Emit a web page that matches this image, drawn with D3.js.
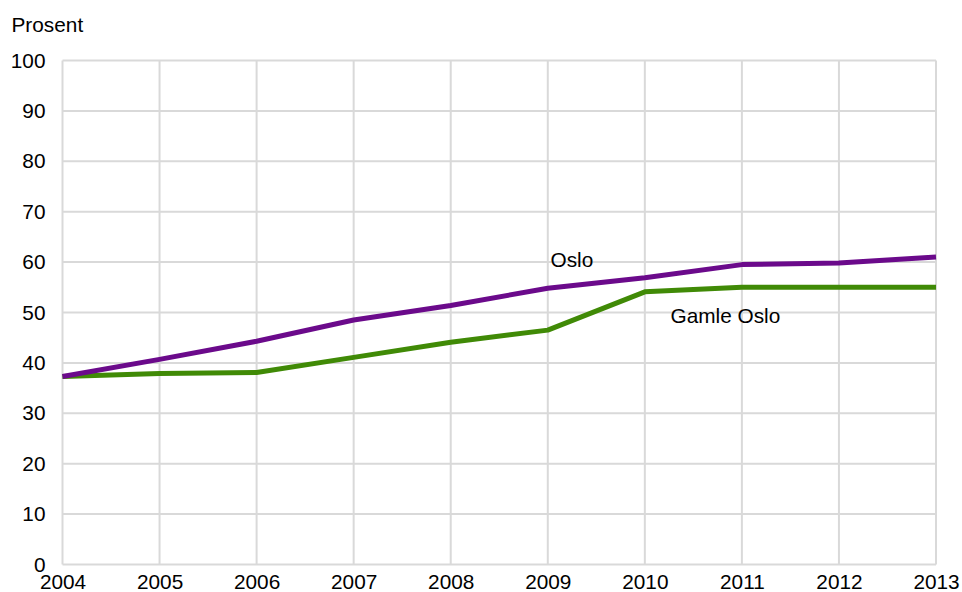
<!DOCTYPE html>
<html>
<head>
<meta charset="utf-8">
<script src="https://cdn.jsdelivr.net/npm/d3@7"></script>
<style>
  html, body { margin: 0; padding: 0; background: #fff; }
  svg { display: block; font-family: "Liberation Sans", Arial, sans-serif; }
</style>
</head>
<body>
<svg id="chart" width="962" height="592"></svg>
<script>
// Andel (prosent) per år
const years = [2004, 2005, 2006, 2007, 2008, 2009, 2010, 2011, 2012, 2013];
const osloValues = [37.3, 40.7, 44.3, 48.5, 51.4, 54.8, 56.9, 59.5, 59.8, 61.0];
const gamleOsloValues = [37.3, 37.9, 38.1, 41.1, 44.1, 46.5, 54.1, 55.0, 55.0, 55.0];
const yTicks = [0, 10, 20, 30, 40, 50, 60, 70, 80, 90, 100];
const yAxisTitle = "Prosent";
const seriesNames = ["Oslo", "Gamle Oslo"];

const svg = d3.select("#chart");
const margin = { left: 62.5, right: 26, top: 60.5, bottom: 27.5 };
const W = 962, H = 592;

const x = d3.scaleLinear().domain([2004, 2013]).range([margin.left, W - margin.right]);
const y = d3.scaleLinear().domain([0, 100]).range([H - margin.bottom, margin.top]);

const gridColor = "#d9d9d9";
const fontSize = 20.8;

// Horizontal grid lines
svg.append("g").selectAll("line").data(yTicks).join("line")
  .attr("x1", x(2004)).attr("x2", x(2013))
  .attr("y1", d => y(d)).attr("y2", d => y(d))
  .attr("stroke", gridColor).attr("stroke-width", 2);

// Vertical grid lines
svg.append("g").selectAll("line").data(years).join("line")
  .attr("x1", d => x(d)).attr("x2", d => x(d))
  .attr("y1", y(0)).attr("y2", y(100))
  .attr("stroke", gridColor).attr("stroke-width", 2);

// Y axis labels
const yAxis = d3.axisLeft(y).tickValues(yTicks).tickSize(0).tickPadding(17).tickFormat(d3.format("d"));
const gy = svg.append("g").attr("transform", `translate(${x(2004)},0)`).call(yAxis);
gy.select(".domain").remove();
gy.selectAll("text").attr("font-size", fontSize).attr("fill", "#000")
  .attr("font-family", "Liberation Sans, Arial, sans-serif");

// X axis labels
const xAxis = d3.axisBottom(x).tickValues(years).tickSize(0).tickPadding(10).tickFormat(d3.format("d"));
const gx = svg.append("g").attr("transform", `translate(0,${y(0)})`).call(xAxis);
gx.select(".domain").remove();
gx.selectAll("text").attr("font-size", fontSize).attr("fill", "#000")
  .attr("font-family", "Liberation Sans, Arial, sans-serif");

// Axis title
svg.append("text").attr("x", 11.5).attr("y", 32)
  .attr("font-size", fontSize).attr("fill", "#000").text(yAxisTitle);

// Lines
const line = d3.line().x((d, i) => x(years[i])).y(d => y(d));
svg.append("path").datum(gamleOsloValues).attr("d", line)
  .attr("fill", "none").attr("stroke", "#408a06").attr("stroke-width", 5)
  .attr("stroke-linejoin", "round");
svg.append("path").datum(osloValues).attr("d", line)
  .attr("fill", "none").attr("stroke", "#6b0a8b").attr("stroke-width", 5)
  .attr("stroke-linejoin", "round");

// Series labels
svg.append("text").attr("x", 550.5).attr("y", 266.5)
  .attr("font-size", fontSize).attr("fill", "#000").text(seriesNames[0]);
svg.append("text").attr("x", 670.5).attr("y", 322.5)
  .attr("font-size", fontSize).attr("fill", "#000").text(seriesNames[1]);
</script>
</body>
</html>
